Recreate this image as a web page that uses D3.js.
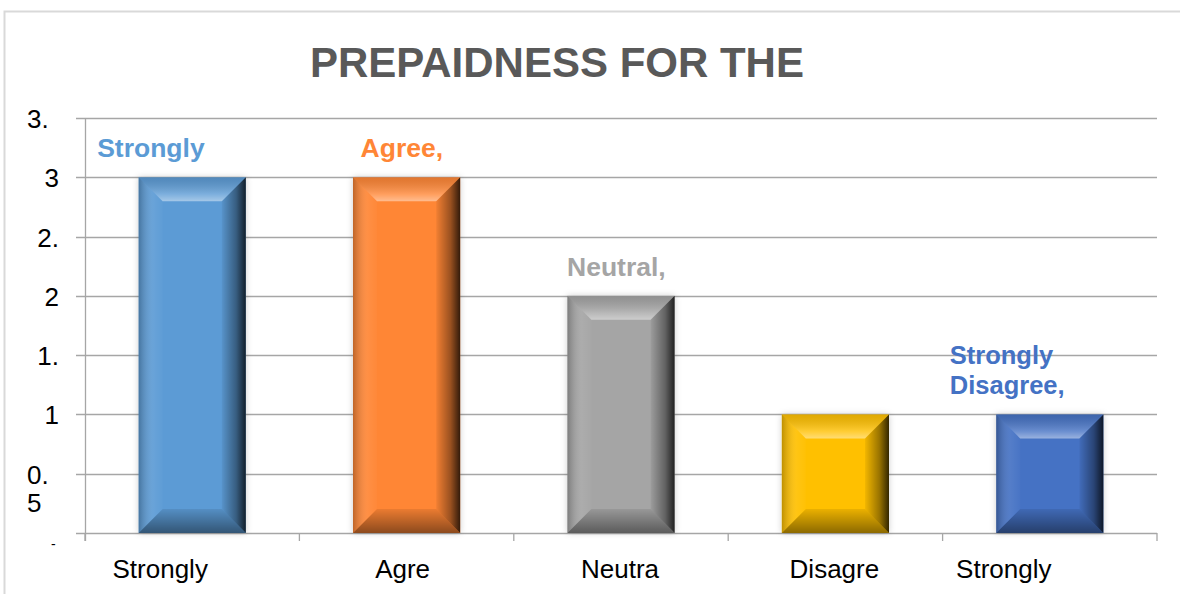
<!DOCTYPE html>
<html>
<head>
<meta charset="utf-8">
<script src="https://cdn.jsdelivr.net/npm/d3@7"></script>
<style>
  body { margin: 0; background: #fff; }
  text { font-family: "Liberation Sans", Arial, sans-serif; }
</style>
</head>
<body>
<script>
// datos del gráfico
const categorias = ["Strongly", "Agre", "Neutra", "Disagre", "Strongly"];
const valores = [3, 3, 2, 1, 1];
const etiquetas = [["Strongly"], ["Agree,"], ["Neutral,"], [], ["Strongly", "Disagree,"]];
const colores = ["#5B9BD5", "#FF8636", "#A5A5A5", "#FFC000", "#4472C4"];
const ticksY = [3.5, 3, 2.5, 2, 1.5, 1, 0.5, 0];
const textosY = [["3."], ["3"], ["2."], ["2"], ["1."], ["1"], ["0.", "5"], ["-"]];
const titulo = "PREPAIDNESS FOR THE";

const W = 1180, H = 594;
const m = { left: 85, right: 1157, top: 118, bottom: 533 };

const svg = d3.select("body").append("svg").attr("width", W).attr("height", H);

// marco del gráfico
svg.append("rect").attr("x", 4.5).attr("y", 11.5).attr("width", 1200).attr("height", 700)
  .attr("fill", "none").attr("stroke", "#d9d9d9").attr("stroke-width", 2);

const x = d3.scaleBand().domain(d3.range(categorias.length)).range([m.left, m.right]).paddingInner(0.5).paddingOuter(0.25);
const y = d3.scaleLinear().domain([0, 3.5]).range([m.bottom, m.top]);
const band = d3.scaleBand().domain(d3.range(categorias.length)).range([m.left, m.right]);

// grilla
svg.append("g").selectAll("line").data(ticksY).join("line")
  .attr("x1", m.left - 9).attr("x2", m.right)
  .attr("y1", d => Math.round(y(d)) + 0.5).attr("y2", d => Math.round(y(d)) + 0.5)
  .attr("stroke", "#a6a6a6").attr("stroke-width", 1.3);

// eje y
svg.append("line").attr("x1", m.left + 0.5).attr("x2", m.left + 0.5)
  .attr("y1", m.top).attr("y2", m.bottom + 8).attr("stroke", "#a6a6a6").attr("stroke-width", 1.3);

// ticks eje x
svg.append("g").selectAll("line").data(d3.range(categorias.length + 1)).join("line")
  .attr("x1", i => i < categorias.length ? band(i) : m.right)
  .attr("x2", i => i < categorias.length ? band(i) : m.right)
  .attr("y1", m.bottom).attr("y2", m.bottom + 8)
  .attr("stroke", "#a6a6a6").attr("stroke-width", 1.3);

// etiquetas eje y (texto cortado como en el original)
const ly = svg.append("g").attr("fill", "#000");
ticksY.forEach((v, i) => {
  textosY[i].forEach((t, j) => {
    let tx = 59, anchor = "end", ty = y(v) + 10 + j * 28, fs = 26;
    if (v === 3.5 || v === 0.5) { tx = 27; anchor = "start"; }
    if (v === 0) { tx = 51; anchor = "start"; ty = y(v) + 16; fs = 14; }
    ly.append("text").attr("x", tx).attr("y", ty).attr("text-anchor", anchor)
      .attr("font-size", fs).text(t);
  });
});

// etiquetas eje x
const dxCat = [-32, -4, -1, -1, -46];
svg.append("g").selectAll("text").data(categorias).join("text")
  .attr("x", (d, i) => x(i) + x.bandwidth() / 2 + dxCat[i]).attr("y", 578)
  .attr("text-anchor", "middle").attr("font-size", 26).attr("fill", "#000").text(d => d);

// degradados para el bisel
const defs = svg.append("defs");
function grad(id, vertical, stops) {
  const g = defs.append("linearGradient").attr("id", id);
  if (vertical) g.attr("x1", 0).attr("y1", 0).attr("x2", 0).attr("y2", 1);
  stops.forEach(s => g.append("stop").attr("offset", s[0]).attr("stop-color", s[1]).attr("stop-opacity", s[2]));
}
grad("top", true, [["0%", "#000", 0.12], ["70%", "#fff", 0.2], ["100%", "#fff", 0.45]]);
grad("bot", true, [["0%", "#000", 0.08], ["100%", "#000", 0.45]]);
grad("izq", false, [["0%", "#000", 0.25], ["60%", "#fff", 0.08], ["100%", "#fff", 0.02]]);
grad("der", false, [["0%", "#000", 0.05], ["60%", "#000", 0.4], ["100%", "#000", 0.8]]);
const sombra = defs.append("filter").attr("id", "sombra").attr("x", "-20%").attr("y", "-20%").attr("width", "140%").attr("height", "140%");
sombra.append("feDropShadow").attr("dx", 0).attr("dy", 0).attr("stdDeviation", 3).attr("flood-color", "#000").attr("flood-opacity", 0.2);

// barras con bisel
const b = 24;
const pts = a => a.map(p => p.join(",")).join(" ");
valores.forEach((v, i) => {
  const x0 = x(i), w = x.bandwidth(), y0 = y(v), y1 = y(0), x1 = x0 + w;
  const g = svg.append("g");
  g.append("rect").attr("x", x0).attr("y", y0).attr("width", w).attr("height", y1 - y0)
    .attr("fill", colores[i]).attr("filter", "url(#sombra)");
  g.append("polygon").attr("points", pts([[x0, y0], [x1, y0], [x1 - b, y0 + b], [x0 + b, y0 + b]]))
    .attr("fill", "url(#top)");
  g.append("polygon").attr("points", pts([[x0, y1], [x1, y1], [x1 - b, y1 - b], [x0 + b, y1 - b]]))
    .attr("fill", "url(#bot)");
  g.append("polygon").attr("points", pts([[x0, y0], [x0 + b, y0 + b], [x0 + b, y1 - b], [x0, y1]]))
    .attr("fill", "url(#izq)");
  g.append("polygon").attr("points", pts([[x1, y0], [x1 - b, y0 + b], [x1 - b, y1 - b], [x1, y1]]))
    .attr("fill", "url(#der)");
});

// etiquetas de datos
const dxEtq = [-95, -46, -54, 0, -100];
valores.forEach((v, i) => {
  const lines = etiquetas[i];
  lines.forEach((t, j) => {
    svg.append("text")
      .attr("x", x(i) + x.bandwidth() / 2 + dxEtq[i])
      .attr("y", y(v) - 20 - (lines.length - 1 - j) * 30)
      .attr("font-size", lines.length > 1 ? 25.5 : 26.5).attr("font-weight", "bold").attr("fill", colores[i]).text(t);
  });
});

// título
svg.append("text").attr("x", 557).attr("y", 77).attr("text-anchor", "middle")
  .attr("font-size", 42).attr("font-weight", "bold").attr("fill", "#595959").text(titulo);
</script>
</body>
</html>
